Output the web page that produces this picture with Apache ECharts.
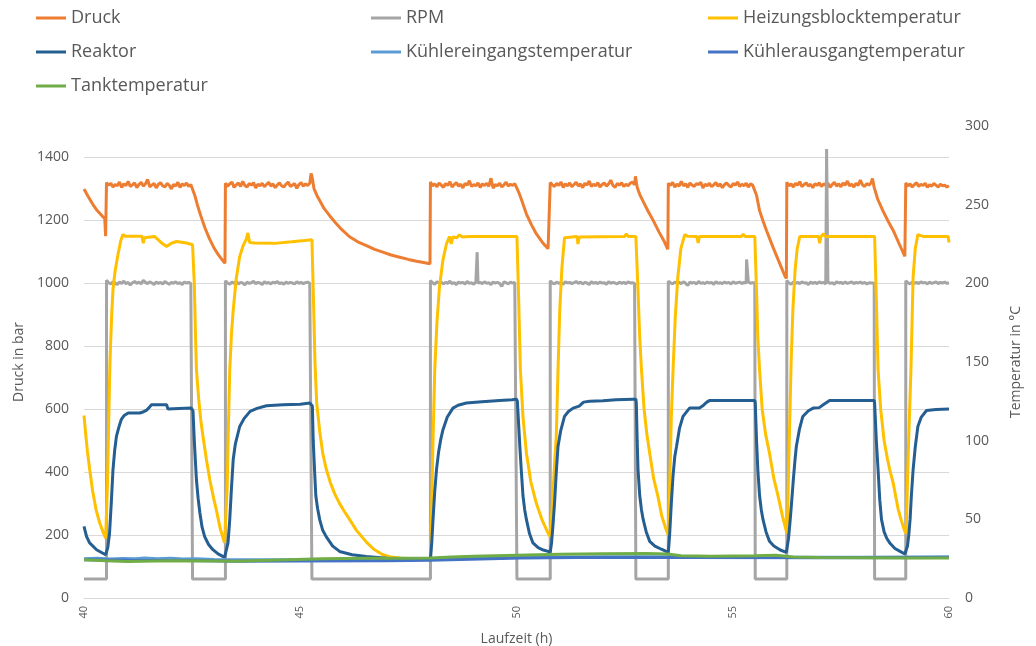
<!DOCTYPE html>
<html><head><meta charset="utf-8">
<script src="https://cdn.jsdelivr.net/npm/echarts@6/dist/echarts.min.js"></script>
<style>html,body{margin:0;padding:0;background:#fff}#c{width:1036px;height:646px}</style>
</head><body><div id="c"></div><script>
// ---------- DATA ----------
const seriesNames = ['Druck','RPM','Heizungsblocktemperatur','Reaktor','Kühlereingangstemperatur','Kühlerausgangtemperatur','Tanktemperatur'];
const xTicks = [40, 45, 50, 55, 60];
const sampleStep = 0.05; // h between logged samples on the noisy plateaus

// Druck (bar): smooth parts [t, value]
const druckCurve = [
 [40.00,1300],[40.10,1275],[40.20,1252],[40.30,1232],[40.40,1217],[40.48,1205],[40.50,1150],
 [42.51,1312],[42.56,1280],[42.62,1250],[42.70,1215],[42.80,1175],[42.90,1142],[43.00,1114],[43.10,1092],[43.20,1074],[43.26,1064],
 [45.25,1349],[45.27,1340],[45.32,1300],[45.40,1275],[45.45,1263],[45.55,1238],[45.68,1215],[45.80,1195],[45.95,1172],[46.14,1148],[46.33,1132],[46.53,1120],[46.72,1108],[46.91,1099],[47.10,1090],[47.30,1083],[47.50,1076],[47.69,1070],[47.85,1066],[48.00,1062],
 [50.00,1316],[50.05,1290],[50.11,1268],[50.23,1220],[50.35,1185],[50.46,1157],[50.60,1130],[50.73,1110],[50.77,1104],
 [52.75,1340],[52.79,1305],[52.85,1282],[52.92,1263],[53.04,1230],[53.16,1200],[53.30,1162],[53.42,1132],[53.50,1108],
 [55.50,1315],[55.55,1280],[55.62,1231],[55.70,1198],[55.78,1168],[55.93,1115],[56.09,1062],[56.20,1025],[56.24,1015],
 [58.23,1333],[58.27,1305],[58.35,1268],[58.47,1231],[58.59,1198],[58.71,1168],[58.85,1125],[58.98,1086]
];
// Druck plateaus (samples every sampleStep from druckStarts[i])
const druckP1 = [1320,1312,1318,1306,1314,1310,1322,1305,1316,1311,1324,1308,1313,1319,1304,1314,1321,1309,1316,1330,1307,1312,1318,1303,1315,1320,1310,1306,1317,1312,1300,1314,1309,1321,1305,1316,1311,1319,1308,1314];
const druckP2 = [1318,1309,1316,1322,1305,1313,1319,1308,1324,1311,1306,1317,1312,1320,1303,1315,1310,1318,1307,1314,1321,1309,1316,1304,1313,1319,1310,1306,1315,1322,1308,1312,1317,1302,1314,1320,1309,1316,1311,1318];
const druckP3 = [1322,1310,1316,1307,1319,1312,1305,1317,1311,1323,1306,1314,1320,1309,1315,1303,1318,1312,1326,1308,1314,1310,1319,1305,1316,1311,1318,1308,1334,1302,1314,1310,1318,1306,1313,1321,1309,1315,1311,1317];
const druckP4 = [1320,1313,1308,1318,1311,1322,1305,1316,1310,1319,1307,1314,1321,1309,1316,1304,1318,1312,1325,1308,1315,1310,1320,1306,1314,1319,1309,1316,1328,1311,1305,1317,1312,1320,1308,1315,1310,1318,1322,1313];
const druckP5 = [1318,1311,1321,1306,1315,1309,1324,1310,1316,1305,1319,1312,1308,1317,1314,1321,1303,1315,1310,1318,1307,1313,1320,1309,1316,1304,1314,1319,1311,1306,1317,1312,1322,1308,1315,1310,1318,1306,1316,1312];
const druckP6 = [1321,1310,1316,1306,1318,1312,1323,1307,1314,1319,1309,1315,1304,1317,1311,1320,1308,1316,1312,1318,1305,1314,1321,1309,1316,1307,1319,1312,1325,1310,1315,1306,1318,1311,1328,1313,1308,1317,1312,1320];
const druckP7 = [1319,1310,1316,1306,1314,1320,1308,1315,1311,1318,1305,1313,1309,1317,1312,1306,1315,1310,1312,1306,1310];
const druckStarts = [40.52, 43.27, 48.01, 50.78, 53.51, 56.25, 59.00];

// RPM: edges of the on/off steps, plateaus and single spikes
const rpmEdges = [
 [40.00,60],[40.52,60],[42.50,1001],[42.51,60],[43.27,60],[45.26,1002],[45.27,60],[48.01,60],
 [50.00,1001],[50.01,60],[50.78,60],[52.75,1001],[52.76,60],[53.51,60],[55.51,1002],[55.52,60],
 [56.25,60],[58.27,1001],[58.28,60],[59.00,60]
];
const rpmP1 = [1010,1002,998,1005,1001,996,1004,1000,1007,999,1003,995,1002,1006,1000,1004,998,1010,1003,999,1005,1001,996,1004,1000,1003,998,1006,1001,997,1003,1000,1005,999,1002,996,1004,1001,1003,999];
const rpmP2 = [1008,1001,997,1004,1000,1006,998,1003,1001,995,1004,1000,1002,1007,999,1003,1001,996,1005,1000,1003,998,1004,1001,1006,999,1002,997,1004,1000,1003,1001,998,1005,1000,1003,999,1002,1004,1000];
const rpmP3 = [1009,1002,997,1005,1001,1004,998,1003,1000,1007,999,1002,996,1004,1001,1003,998,1006,1000,1002,997,1004,1001,1003,999,1005,1000,1002,996,1004,1001,1003,1000,990,1005,1002,998,1004,1001,1003];
const rpmP4 = [1008,1001,998,1004,1000,1003,997,1005,1001,1003,999,1002,1006,1000,1004,998,1003,1001,996,1005,1000,1003,999,1004,1001,1002,997,1005,1000,1003,1001,998,1004,1000,1003,999,1005,1001,1002,1000];
const rpmP5 = [1007,1002,998,1004,1001,1003,999,1005,1000,993,1004,1001,1003,998,1006,1000,1002,999,1004,1001,1003,997,1005,1000,1002,999,1004,1001,1003,998,1005,1000,1002,1004,999,1003,1001,1005,1000,1002];
const rpmP6 = [1009,1001,997,1004,1000,1003,999,1005,1001,1002,996,1004,1000,1003,999,1005,1001,1003,998,1004,1000,1002,997,1005,1001,1003,999,1004,1000,1002,1005,999,1003,1001,1004,1000,1003,998,1002,1001];
const rpmP7 = [1008,1002,998,1004,1000,1003,999,1005,1001,1003,998,1004,1000,1002,1005,999,1003,1001,1004,1000,1002];
const rpmStarts = [40.52, 43.27, 48.01, 50.78, 53.51, 56.25, 59.00];
const rpmSpikes = [[49.09,1099],[55.32,1076],[57.17,1427]];

// Heizungsblocktemperatur (°C)
const heizung = [
 [40.00,116],[40.04,104],[40.08,93],[40.13,82],[40.20,68],[40.28,56],[40.36,48],[40.44,42],[40.50,38],
 [40.54,70],[40.57,110],[40.60,150],[40.64,180],[40.67,196],[40.72,208],[40.79,219],[40.85,227],[40.90,231],[40.95,230],
 [41.34,230],[41.37,225.5],[41.40,229],[41.63,229.8],[41.78,226],[41.91,223.4],[42.02,225.5],[42.14,226.6],[42.37,225.6],[42.51,224.5],
 [42.55,200],[42.58,165],[42.60,145],[42.65,127],[42.70,113],[42.75,103],[42.83,88],[42.91,75],[43.00,63],[43.06,56],[43.15,44],[43.25,35],[43.28,34],
 [43.31,70],[43.34,110],[43.37,145],[43.41,168],[43.45,183],[43.52,203],[43.60,217],[43.68,224],[43.75,228],[43.79,232],[43.83,226],[43.95,225.6],
 [44.40,225.4],[44.80,226.4],[45.10,227.2],[45.27,227.7],
 [45.31,185],[45.34,150],[45.38,124],[45.45,106],[45.52,92],[45.60,82],[45.70,73],[45.80,66],[45.91,60],[46.02,55],[46.14,50],[46.30,43],[46.53,35.5],[46.70,31],[46.91,27.5],[47.10,26],[47.30,25.4],[47.60,24.8],[48.01,24.3],
 [48.04,60],[48.07,100],[48.11,145],[48.16,175],[48.22,198],[48.30,215],[48.38,225],[48.45,229.8],[48.49,225],[48.53,229.5],[48.62,229],[48.68,230.8],[48.75,229.4],[48.90,229.8],[50.01,229.8],
 [50.05,190],[50.09,145],[50.15,115],[50.23,92],[50.33,74],[50.46,60],[50.60,49],[50.73,41.3],[50.78,39],
 [50.83,60],[50.88,85],[50.92,103],[50.96,145],[51.00,183],[51.05,210],[51.11,229],[51.40,229.8],[51.42,225],[51.45,229.5],[52.50,229.8],[52.54,231.5],[52.58,229.8],[52.76,229.8],
 [52.81,195],[52.85,165],[52.89,145],[52.95,120],[53.01,105],[53.08,92],[53.17,76],[53.27,64.6],[53.36,52],[53.46,43.4],[53.51,40],
 [53.55,80],[53.58,115],[53.62,145],[53.67,178],[53.73,204],[53.80,222],[53.89,231],[53.95,230],[54.17,229.8],[54.20,225.6],[54.23,229.8],[55.20,229.8],[55.24,231.2],[55.28,229.8],[55.51,229.8],
 [55.55,195],[55.58,165],[55.62,145],[55.68,120],[55.76,104],[55.85,92],[55.95,76],[56.05,64.6],[56.15,52],[56.24,42.3],[56.26,41],
 [56.29,80],[56.32,115],[56.35,150],[56.39,183],[56.44,208],[56.49,222],[56.55,229.8],[56.98,229.8],[57.01,225.5],[57.04,229.8],[57.10,231.5],[57.14,229.8],[58.28,229.8],
 [58.32,190],[58.36,145],[58.42,120],[58.50,100],[58.58,88],[58.63,81.5],[58.71,73],[58.82,57],[58.90,49],[58.98,42.3],[59.01,41],
 [59.05,85],[59.09,120],[59.12,145],[59.17,204],[59.22,222],[59.28,231],[59.40,229.8],[59.98,229.8],[60.00,226]
];

// Reaktor (°C)
const reaktor = [
 [40.00,45.5],[40.06,39],[40.13,35],[40.29,30.7],[40.50,27.5],[40.52,28],[40.55,32],[40.59,41],[40.63,60],[40.67,81.5],[40.71,94],[40.75,102.7],[40.80,108],[40.86,113.3],[40.93,116],[41.02,117.6],
 [41.29,117.6],[41.38,118.4],[41.44,119.2],[41.52,121.5],[41.56,122.8],[41.91,122.8],[41.94,120.1],[42.20,120.4],[42.48,120.7],
 [42.52,119],[42.55,100],[42.58,85],[42.60,75],[42.64,63],[42.68,54],[42.73,45],[42.79,39],[42.88,34],[42.98,30.7],[43.10,28],[43.25,25.8],[43.28,25.5],
 [43.33,35],[43.37,50],[43.41,70],[43.45,88],[43.50,98],[43.60,109],[43.70,114],[43.84,118.6],[44.00,120.5],[44.22,122.2],[44.60,122.8],[45.00,123.2],[45.22,123.9],[45.26,124.5],
 [45.28,122],[45.30,100],[45.33,81.5],[45.36,65],[45.40,57],[45.45,49.8],[45.52,43],[45.60,39],[45.75,33],[45.91,29.6],[46.20,27.5],[46.53,26.4],[47.00,25.2],[47.50,24.8],[48.01,24.5],
 [48.04,35],[48.07,50],[48.11,68],[48.15,81.5],[48.20,93],[48.25,101],[48.30,107],[48.40,115],[48.53,120.7],[48.65,122.5],[48.84,123.9],[49.20,124.8],[49.61,125.6],[49.90,126],[50.00,126.4],
 [50.02,125],[50.05,110],[50.08,95],[50.11,81.5],[50.15,65],[50.19,56],[50.23,49.8],[50.30,41],[50.38,35],[50.50,32],[50.62,30.5],[50.73,29.6],[50.78,29],
 [50.81,35],[50.84,45],[50.88,60.4],[50.92,80],[50.96,96.3],[51.02,106],[51.11,115.4],[51.20,118.5],[51.31,120.7],[51.45,122],[51.55,124.5],[51.69,125],[52.00,125.3],[52.30,126],[52.69,126.4],[52.76,126.4],
 [52.77,124],[52.79,100],[52.81,81.5],[52.85,65],[52.89,56],[52.93,49.8],[53.00,42],[53.08,36],[53.20,33],[53.35,31],[53.46,29.6],[53.51,29],
 [53.54,40],[53.58,60.4],[53.62,78],[53.66,90],[53.70,96.3],[53.77,108],[53.85,115.4],[54.00,120.7],[54.23,120.7],[54.30,122],[54.40,124.5],[54.47,125.6],[55.51,125.6],
 [55.52,124],[55.55,100],[55.58,81.5],[55.62,65],[55.66,56],[55.70,49.8],[55.77,42],[55.85,36],[55.95,33],[56.10,30.5],[56.24,29],[56.26,28.8],
 [56.29,38],[56.32,47],[56.36,60.4],[56.40,75],[56.44,88],[56.47,96.3],[56.54,107],[56.62,115.4],[56.75,119],[56.86,120.7],[57.00,121],[57.10,123],[57.24,125.6],[58.27,125.6],
 [58.28,124],[58.32,100],[58.36,81.5],[58.40,62],[58.44,49.8],[58.50,42],[58.56,38],[58.63,35],[58.75,31.5],[58.88,29.5],[58.98,28],[59.00,28],
 [59.04,33],[59.07,40],[59.10,49.8],[59.13,65],[59.17,81.5],[59.22,96],[59.28,109],[59.36,115],[59.48,119.2],[59.70,119.8],[60.00,120.1]
];

// Kühlereingangstemperatur (°C)
const kuehlerEin = [
 [40.00,25.0],[40.30,25.3],[40.60,24.8],[40.90,25.1],[41.20,24.9],[41.40,25.4],[41.70,24.9],[42.00,25.2],[42.30,24.8],[42.60,25.0],[43.00,24.4],
 [44.00,24.3],[46.00,24.5],[48.00,24.8],[50.00,25.8],[52.00,26.2],[54.00,26.2],[56.00,26.0],[58.00,25.9],[60.00,26.2]
];
// Kühlerausgangtemperatur (°C)
const kuehlerAus = [
 [40.00,24.3],[41.00,24.0],[42.50,23.8],[43.50,23.3],[45.00,23.5],[47.00,23.7],[48.00,24.0],[50.10,25.4],[51.40,25.8],[54.00,25.8],[57.00,25.6],[60.00,25.8]
];
// Tanktemperatur (°C)
const tank = [
 [40.00,24.3],[40.50,23.6],[41.00,23.2],[42.00,23.6],[43.00,23.5],[43.50,23.3],[44.50,24.2],[45.50,25.0],[46.50,25.2],[47.50,25.3],[48.00,25.4],
 [48.50,26.0],[49.00,26.6],[50.00,27.2],[51.00,27.8],[52.00,28.2],[53.00,28.3],[53.50,28.0],[53.80,26.8],[54.50,26.6],[55.50,26.8],[56.00,27.2],
 [56.40,26.0],[57.00,25.8],[58.00,25.6],[59.00,25.4],[60.00,25.4]
];

// ---------- assembly ----------
function samples(t0, vals) {
  return vals.map((v, i) => [Math.round((t0 + i * sampleStep) * 1000) / 1000, v]);
}
function build(pieces) {
  const all = [].concat(...pieces).map((p, i) => [p[0], p[1], i]);
  all.sort((a, b) => (a[0] - b[0]) || (a[2] - b[2]));
  return all.map(p => [p[0], p[1]]);
}
const druckPlateaus = [druckP1, druckP2, druckP3, druckP4, druckP5, druckP6, druckP7];
const rpmPlateaus = [rpmP1, rpmP2, rpmP3, rpmP4, rpmP5, rpmP6, rpmP7];
const druckData = build([druckCurve].concat(druckPlateaus.map((p, i) => samples(druckStarts[i], p))));
const rpmData = build([rpmEdges].concat(rpmPlateaus.map((p, i) => samples(rpmStarts[i], p)), [rpmSpikes]));

const colors = ['#ED7D31', '#A5A5A5', '#FFC000', '#255E91', '#5B9BD5', '#4472C4', '#70AD47'];
const dataSets = [druckData, rpmData, heizung, reaktor, kuehlerEin, kuehlerAus, tank];
const axisIdx = [0, 0, 1, 1, 1, 1, 1];

const txt = '#595959';
const font = '"Open Sans", "Noto Sans", sans-serif';
const legendPos = [[36, 9], [371, 9], [708, 9], [36, 43], [371, 43], [708, 43], [36, 77]];

const chart = echarts.init(document.getElementById('c'), null, { renderer: 'canvas' });
chart.setOption({
  animation: false,
  backgroundColor: '#fff',
  textStyle: { fontFamily: font },
  legend: seriesNames.map((n, i) => ({
    data: [n], left: legendPos[i][0], top: legendPos[i][1], padding: 0,
    icon: 'rect', itemWidth: 30, itemHeight: 3, selectedMode: false,
    textStyle: { color: txt, fontSize: 18, fontFamily: font }
  })),
  grid: { left: 84, right: 87, top: 126, bottom: 48, containLabel: false, outerBoundsMode: 'none' },
  xAxis: {
    type: 'value', min: 40, max: 60, interval: 5,
    name: 'Laufzeit (h)', nameLocation: 'middle', nameGap: 34,
    nameTextStyle: { color: txt, fontSize: 14, fontFamily: font },
    axisLine: { show: true, lineStyle: { color: '#d9d9d9' } },
    axisTick: { show: false },
    axisLabel: { rotate: 90, color: txt, fontSize: 11, margin: 8, fontFamily: font, formatter: v => String(v) },
    splitLine: { show: false }
  },
  yAxis: [{
    type: 'value', min: 0, max: 1500, interval: 200,
    name: 'Druck in bar', nameLocation: 'middle', nameGap: 54, nameRotate: 90,
    nameTextStyle: { color: txt, fontSize: 14, fontFamily: font },
    axisLine: { show: false }, axisTick: { show: false },
    axisLabel: { color: txt, fontSize: 14, margin: 15, showMaxLabel: false, fontFamily: font, formatter: v => String(v) },
    splitLine: { show: true, showMaxLine: false, lineStyle: { color: '#d9d9d9', width: 1 } }
  }, {
    type: 'value', min: 0, max: 300, interval: 50, position: 'right',
    name: 'Temperatur in °C', nameLocation: 'middle', nameGap: 60, nameRotate: 90,
    nameTextStyle: { color: txt, fontSize: 14, fontFamily: font },
    axisLine: { show: false }, axisTick: { show: false },
    axisLabel: { color: txt, fontSize: 14, margin: 16, fontFamily: font, formatter: v => String(v) },
    splitLine: { show: false }
  }],
  series: seriesNames.map((n, i) => ({
    name: n, type: 'line', yAxisIndex: axisIdx[i], data: dataSets[i],
    showSymbol: false, symbol: 'none', smooth: false,
    lineStyle: { color: colors[i], width: 3 },
    itemStyle: { color: colors[i] }
  }))
});
</script></body></html>
